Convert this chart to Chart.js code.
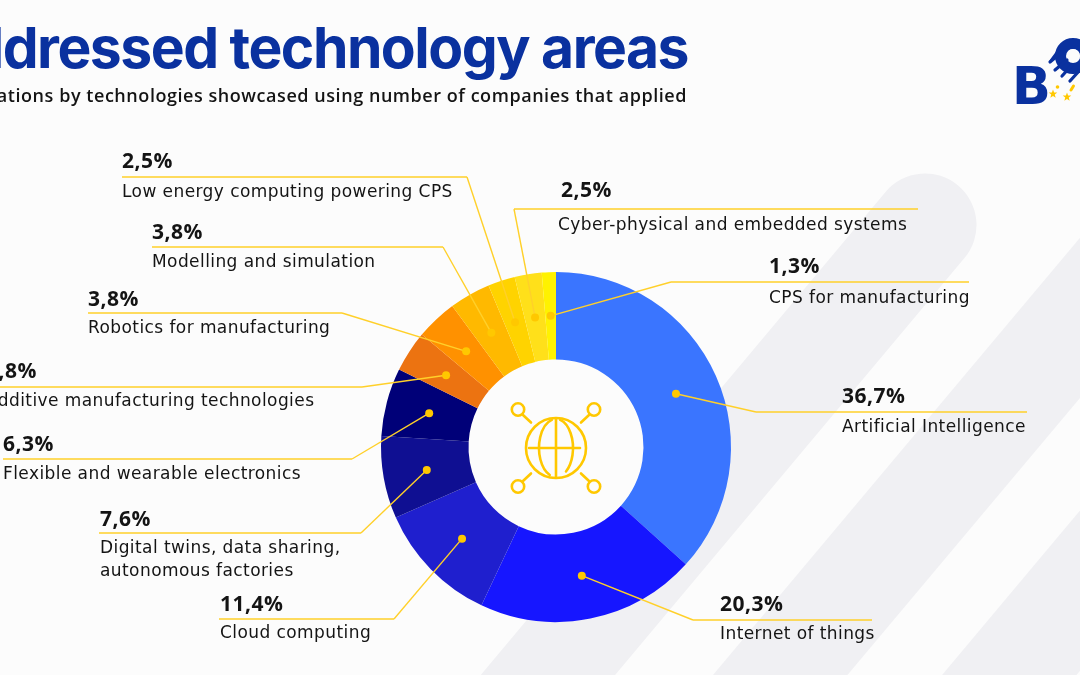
<!DOCTYPE html>
<html>
<head>
<meta charset="utf-8">
<title>Addressed technology areas</title>
<script src="https://cdn.jsdelivr.net/npm/chart.js@4/dist/chart.umd.min.js"></script>
<style>
    html, body { margin: 0; padding: 0; background: #fcfcfc; overflow: hidden; }
    #wrap { position: relative; width: 1080px; height: 675px; }
</style>
</head>
<body>
<div id="wrap"><canvas id="chart" width="1080" height="675"></canvas></div>
<script>
const categories = [
    'Artificial Intelligence', 'Internet of things', 'Cloud computing',
    'Digital twins, data sharing,|autonomous factories', 'Flexible and wearable electronics',
    'Additive manufacturing technologies', 'Robotics for manufacturing', 'Modelling and simulation',
    'Low energy computing powering CPS', 'Cyber-physical and embedded systems', 'CPS for manufacturing'
];
const shares = [36.7, 20.3, 11.4, 7.6, 6.3, 3.8, 3.8, 3.8, 2.5, 2.5, 1.3];
const sliceColors = ['#3a75ff', '#1616ff', '#1f1fce', '#0f0f92', '#000078', '#ec7311', '#ff9100', '#ffb900', '#ffd300', '#ffe01a', '#fff200'];

// where each callout sits: pct x/baseline, rule y, rule ends, elbow x, text x/baselines
const callouts = [
    { px: 842, py: 403, ry: 412, rx: 756, rEnd: 1027, ex: 756, tx: 842, ty: [432] },
    { px: 720, py: 611, ry: 620, rx: 693, rEnd: 872, ex: 693, tx: 720, ty: [639] },
    { px: 220, py: 611, ry: 619, rx: 219, rEnd: 394, ex: 394, tx: 220, ty: [638] },
    { px: 100, py: 526, ry: 533, rx: 99, rEnd: 361, ex: 361, tx: 100, ty: [553, 576] },
    { px: 3, py: 451, ry: 459, rx: 3, rEnd: 352, ex: 352, tx: 3, ty: [479] },
    { px: -14, py: 378, ry: 387, rx: -10, rEnd: 362, ex: 362, tx: -14, ty: [406] },
    { px: 88, py: 306, ry: 313, rx: 88, rEnd: 342, ex: 342, tx: 88, ty: [333] },
    { px: 152, py: 239, ry: 247, rx: 152, rEnd: 443, ex: 443, tx: 152, ty: [267] },
    { px: 122, py: 168, ry: 177, rx: 122, rEnd: 467, ex: 467, tx: 122, ty: [197] },
    { px: 561, py: 197, ry: 209, rx: 514, rEnd: 918, ex: 514, tx: 558, ty: [230] },
    { px: 769, py: 273, ry: 282, rx: 671, rEnd: 969, ex: 671, tx: 769, ty: [303] }
];

const BLUE = '#0a319f';
const GOLD = '#ffc800';
const RULE = '#ffd02a';
const INK = '#141414';

function drawStripe(ctx, x1, y1, x2, y2) {
    ctx.beginPath();
    ctx.moveTo(x1, y1);
    ctx.lineTo(x2, y2);
    ctx.stroke();
}

const backdrop = {
    id: 'backdrop',
    beforeDraw(chart) {
        const ctx = chart.ctx;
        ctx.save();
        ctx.strokeStyle = '#f0f0f3';
        ctx.lineWidth = 103;
        ctx.lineCap = 'round';
        drawStripe(ctx, 925, 225, 470, 768);
        ctx.lineCap = 'butt';
        drawStripe(ctx, 1200, 175, 640, 842);
        drawStripe(ctx, 1256, 381, 870, 841);
        ctx.restore();
    }
};

function drawText(ctx, str, x, y, font, color, spacing, align) {
    ctx.font = font;
    ctx.fillStyle = color;
    ctx.letterSpacing = spacing + 'px';
    ctx.textAlign = align || 'left';
    ctx.textBaseline = 'alphabetic';
    ctx.fillText(str, x, y);
    ctx.letterSpacing = '0px';
}

function drawHeader(ctx) {
    drawText(ctx, 'Addressed technology areas', 688, 68, '700 57px Inter', BLUE, -1.5, 'right');
    drawText(ctx, 'Applications by technologies showcased using number of companies that applied', 687, 102, '600 18px "Open Sans"', INK, 0.55, 'right');
}

function drawStar(ctx, cx, cy, r) {
    ctx.beginPath();
    for (let i = 0; i < 10; i++) {
        const a = -Math.PI / 2 + i * Math.PI / 5;
        const d = i % 2 ? r * 0.42 : r;
        ctx.lineTo(cx + d * Math.cos(a), cy + d * Math.sin(a));
    }
    ctx.closePath();
    ctx.fill();
}

function drawLogo(ctx) {
    drawText(ctx, 'B', 1012, 104, '700 51px "DejaVu Sans"', BLUE, 0);
    ctx.save();
    ctx.strokeStyle = BLUE;
    ctx.fillStyle = BLUE;
    ctx.lineCap = 'round';
    ctx.beginPath();
    ctx.moveTo(1049, 61);
    ctx.lineTo(1063, 42);
    ctx.lineTo(1082, 72);
    ctx.lineTo(1072, 70);
    ctx.lineTo(1060, 58);
    ctx.closePath();
    ctx.fill();
    ctx.lineWidth = 11;
    ctx.beginPath();
    ctx.arc(1073, 56, 12.5, 0, Math.PI * 2);
    ctx.stroke();
    ctx.fillStyle = '#fcfcfc';
    ctx.beginPath();
    ctx.arc(1073, 56, 7, 0, Math.PI * 2);
    ctx.fill();
    ctx.lineWidth = 3.2;
    [[1050, 62, 1062, 52], [1055, 70, 1067, 60], [1062, 76, 1072, 65], [1070, 81, 1079, 71]].forEach(f => drawStripe(ctx, f[0], f[1], f[2], f[3]));
    ctx.fillStyle = GOLD;
    drawStar(ctx, 1053, 94, 4.5);
    drawStar(ctx, 1067, 97, 4.5);
    ctx.beginPath();
    ctx.arc(1057.5, 87, 1.8, 0, Math.PI * 2);
    ctx.fill();
    ctx.strokeStyle = GOLD;
    ctx.lineWidth = 3;
    drawStripe(ctx, 1071, 90, 1073.5, 86);
    ctx.restore();
}

function drawGlobe(ctx, cx, cy) {
    ctx.save();
    ctx.translate(cx, cy + 1);
    ctx.strokeStyle = GOLD;
    ctx.lineWidth = 2.6;
    ctx.lineCap = 'round';
    ctx.beginPath();
    ctx.arc(0, 0, 30, 0, Math.PI * 2);
    ctx.stroke();
    ctx.beginPath();
    ctx.moveTo(-27, 0);
    ctx.lineTo(24, 0);
    ctx.moveTo(0, -29);
    ctx.lineTo(0, 29);
    ctx.stroke();
    ctx.beginPath();
    ctx.ellipse(0, 0, 17, 29, 0, Math.PI * 0.62, Math.PI * 1.42);
    ctx.stroke();
    ctx.beginPath();
    ctx.ellipse(0, 0, 17, 29, 0, -Math.PI * 0.42, Math.PI * 0.3);
    ctx.stroke();
    [[-1, -1], [1, -1], [-1, 1], [1, 1]].forEach(s => {
        ctx.beginPath();
        ctx.arc(38 * s[0], 38.5 * s[1], 6.2, 0, Math.PI * 2);
        ctx.stroke();
        ctx.beginPath();
        ctx.moveTo(33 * s[0], 33 * s[1]);
        ctx.lineTo(25 * s[0], 25.5 * s[1]);
        ctx.stroke();
    });
    ctx.restore();
}

const overlay = {
    id: 'overlay',
    afterDraw(chart) {
        const ctx = chart.ctx;
        const arcs = chart.getDatasetMeta(0).data;
        drawHeader(ctx);
        drawLogo(ctx);
        drawGlobe(ctx, arcs[0].x, arcs[0].y);

        callouts.forEach((c, i) => {
            const dot = arcs[i].getCenterPoint();
            ctx.save();
            ctx.strokeStyle = RULE;
            ctx.lineWidth = 1.4;
            ctx.beginPath();
            ctx.moveTo(dot.x, dot.y);
            ctx.lineTo(c.ex, c.ry);
            ctx.stroke();
            ctx.beginPath();
            ctx.moveTo(c.rx, c.ry);
            ctx.lineTo(c.rEnd, c.ry);
            ctx.stroke();
            ctx.fillStyle = GOLD;
            ctx.beginPath();
            ctx.arc(dot.x, dot.y, 4, 0, Math.PI * 2);
            ctx.fill();
            ctx.restore();

            const pct = String(shares[i]).replace('.', ',') + '%';
            drawText(ctx, pct, c.px, c.py, '700 21px "Open Sans"', INK, 0.5);
            categories[i].split('|').forEach((line, k) => {
                drawText(ctx, line, c.tx, c.ty[k], '400 17px "DejaVu Sans"', INK, 0.42);
            });
        });
    }
};

new Chart(document.getElementById('chart').getContext('2d'), {
    type: 'doughnut',
    data: {
        labels: categories,
        datasets: [{
            data: shares,
            backgroundColor: sliceColors,
            borderWidth: 0
        }]
    },
    options: {
        responsive: false,
        animation: false,
        cutout: '50%',
        layout: { padding: { left: 381, right: 349, top: 272, bottom: 53 } },
        plugins: {
            legend: { display: false },
            tooltip: { enabled: false }
        }
    },
    plugins: [backdrop, overlay]
});
</script>
</body>
</html>
